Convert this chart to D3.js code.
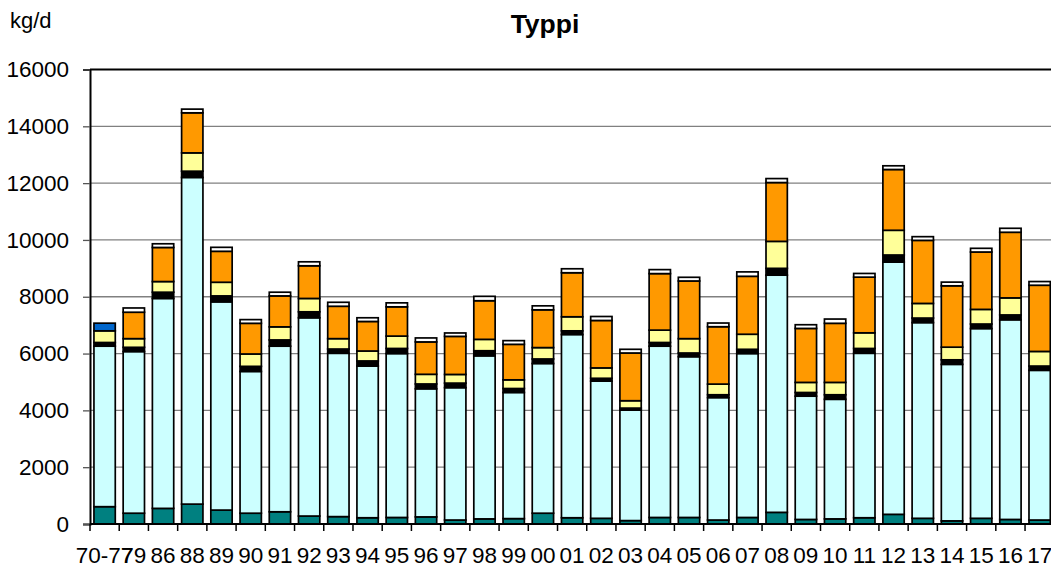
<!DOCTYPE html>
<html>
<head>
<meta charset="utf-8">
<script src="https://cdn.jsdelivr.net/npm/d3@7"></script>
<style>
  html, body { margin: 0; padding: 0; background: #fff; }
  svg { display: block; font-family: "Liberation Sans", Arial, sans-serif; }
</style>
</head>
<body>
<svg id="chart" width="1051" height="566"></svg>
<script>
// Nitrogen load (kg/d) by year, stacked by source
const categories = ["70-77","79","86","88","89","90","91","92","93","94","95","96","97","98","99",
  "00","01","02","03","04","05","06","07","08","09","10","11","12","13","14","15","16","17"];

const teal   = [610,380,550,700,490,380,430,280,260,220,230,250,140,180,190,380,220,200,120,230,230,140,230,410,160,180,220,340,200,110,200,160,140];
const cyan   = [5650,5690,7390,11500,7330,4990,5830,6980,5750,5340,5770,4510,4660,5740,4440,5270,6450,4830,3890,6030,5660,4310,5770,8350,4340,4210,5790,8880,6890,5510,6680,7030,5270];
const black  = [130,150,220,220,210,180,220,210,150,180,180,170,160,180,140,160,130,100,70,130,130,100,150,240,130,160,170,250,160,160,160,170,150];
const yellow = [410,305,375,645,480,435,460,470,365,350,435,340,305,400,305,400,495,365,260,435,505,375,530,950,355,435,550,870,515,445,515,600,515];
const orange = [0,930,1200,1410,1090,1080,1090,1150,1140,1040,1030,1140,1340,1360,1250,1330,1550,1670,1680,1990,2030,2020,2040,2070,1900,2080,1960,2140,2220,2160,2020,2310,2330];
const white  = [0,150,130,130,140,130,130,140,140,130,140,140,120,155,130,140,140,140,130,140,130,130,155,140,130,150,130,130,130,130,130,140,130];
const blue   = [270,0,0,0,0,0,0,0,0,0,0,0,0,0,0,0,0,0,0,0,0,0,0,0,0,0,0,0,0,0,0,0,0];

const yTicks = [0,2000,4000,6000,8000,10000,12000,14000,16000];

const seriesKeys = ["teal","cyan","black","yellow","orange","white","blue"];
const seriesColors = {
  teal: "#008080", cyan: "#CCFFFF", black: "#000000", yellow: "#FFFF99",
  orange: "#FF9900", white: "#FFFFFF", blue: "#0066CC"
};
const seriesValues = { teal, cyan, black, yellow, orange, white, blue };

const rows = categories.map((c, i) => {
  const r = { cat: c };
  seriesKeys.forEach(k => r[k] = seriesValues[k][i]);
  return r;
});

const svg = d3.select("#chart");
const plotLeft = 90, plotBottom = 524, plotTop = 69.5;
const step = 29.22;
const plotRight = plotLeft + step * categories.length;

const x = d3.scaleBand().domain(categories).range([plotLeft, plotRight])
  .paddingInner(0.27).paddingOuter(0.135);
const y = d3.scaleLinear().domain([0, 16000]).range([plotBottom, plotTop]);

// gridlines
svg.append("g").selectAll("line").data(yTicks.filter(t => t > 0 && t < 16000)).join("line")
  .attr("x1", plotLeft).attr("x2", 1051)
  .attr("y1", d => y(d)).attr("y2", d => y(d))
  .attr("stroke", "#808080").attr("stroke-width", 1.3);

// plot area top border
svg.append("line").attr("x1", plotLeft).attr("x2", 1051)
  .attr("y1", y(16000)).attr("y2", y(16000))
  .attr("stroke", "#000").attr("stroke-width", 2);

// stacked bars
const stacked = d3.stack().keys(seriesKeys)(rows);
svg.append("g").selectAll("g").data(stacked).join("g")
  .attr("fill", d => seriesColors[d.key])
  .selectAll("rect").data(d => d.filter(s => s[1] - s[0] > 0)).join("rect")
  .attr("x", d => x(d.data.cat))
  .attr("width", x.bandwidth())
  .attr("y", d => y(d[1]))
  .attr("height", d => y(d[0]) - y(d[1]))
  .attr("stroke", "#000").attr("stroke-width", 1.7);

// y axis
const yAxis = svg.append("g").attr("transform", `translate(${plotLeft},0)`)
  .call(d3.axisLeft(y).tickValues(yTicks).tickFormat(d3.format("d")).tickSize(7).tickPadding(14));
yAxis.select(".domain").attr("stroke", "#000").attr("stroke-width", 2);
yAxis.selectAll(".tick line").attr("stroke", "#555").attr("stroke-width", 1.3);
yAxis.selectAll(".tick text").attr("font-size", 22.5).attr("fill", "#000")
  .attr("font-family", "Liberation Sans, Arial, sans-serif");

// x axis with ticks at category boundaries
const xAxisG = svg.append("g");
xAxisG.append("line").attr("x1", plotLeft).attr("x2", 1051)
  .attr("y1", plotBottom).attr("y2", plotBottom)
  .attr("stroke", "#000").attr("stroke-width", 2);
const bounds = d3.range(categories.length + 1).map(i => plotLeft + x.step() * i);
xAxisG.selectAll("line.tick").data(bounds).join("line")
  .attr("class", "tick")
  .attr("x1", d => d).attr("x2", d => d)
  .attr("y1", plotBottom).attr("y2", plotBottom + 7)
  .attr("stroke", "#000").attr("stroke-width", 1.5);
xAxisG.selectAll("text").data(categories).join("text")
  .attr("x", d => x(d) + x.bandwidth() / 2)
  .attr("y", 562.5)
  .attr("text-anchor", "middle")
  .attr("font-size", 22.5)
  .text(d => d);

// title and unit
svg.append("text").attr("x", 545).attr("y", 33).attr("text-anchor", "middle")
  .attr("font-size", 26.5).attr("font-weight", "bold").text("Typpi");
svg.append("text").attr("x", 10).attr("y", 27.5)
  .attr("font-size", 22).text("kg/d");
</script>
</body>
</html>
